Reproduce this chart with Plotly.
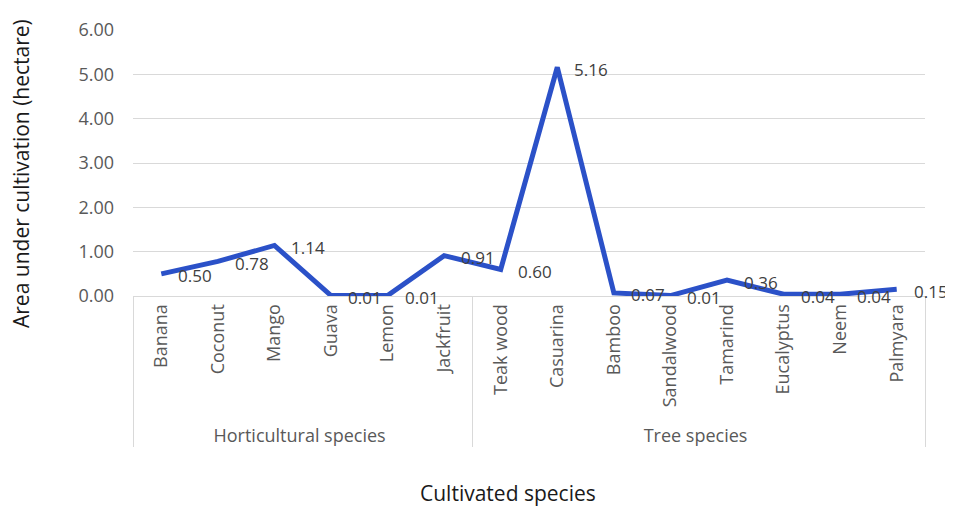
import plotly.graph_objects as go

groups = ["Horticultural species"] * 6 + ["Tree species"] * 8
species = ["Banana", "Coconut", "Mango", "Guava", "Lemon", "Jackfruit",
           "Teak wood", "Casuarina", "Bamboo", "Sandalwood", "Tamarind",
           "Eucalyptus", "Neem", "Palmyara"]
area = [0.50, 0.78, 1.14, 0.01, 0.01, 0.91, 0.60, 5.16, 0.07, 0.01, 0.36, 0.04, 0.04, 0.15]
y_ticks = [0, 1, 2, 3, 4, 5, 6]

# page has an 8px body margin; figure sized to fit the 953x507 window
W, H = 945, 499
L, R, T, B = 125, 28, 22, 211
pw, ph = W - L - R, H - T - B

fig = go.Figure()
fig.add_trace(go.Scatter(
    x=[groups, species], y=area, mode="lines",
    line=dict(color="#2B51C8", width=5), showlegend=False,
))

for i, v in enumerate(area):
    fig.add_annotation(x=i, y=v, xref="x", yref="y", text=f"{v:.2f}",
                       showarrow=False, xanchor="left", yanchor="middle",
                       xshift=15, yshift=-2,
                       font=dict(family="Open Sans", size=17, color="#404040"))

def px_to_paper(xp, yp):
    return (xp - L) / pw, (H - yp - B) / ph

tx, ty = px_to_paper(500, 485)
fig.add_annotation(x=tx, y=ty, xref="paper", yref="paper", text="Cultivated species",
                   showarrow=False, xanchor="center", yanchor="middle",
                   font=dict(family="Open Sans", size=21, color="#1a1a1a"))
tx, ty = px_to_paper(13, 166)
fig.add_annotation(x=tx, y=ty, xref="paper", yref="paper",
                   text="Area under cultivation (hectare)", textangle=-90,
                   showarrow=False, xanchor="center", yanchor="middle",
                   font=dict(family="Open Sans", size=21, color="#1a1a1a"))

fig.update_layout(
    width=W, height=H,
    margin=dict(l=L, r=R, t=T, b=B),
    paper_bgcolor="white", plot_bgcolor="white",
    font=dict(family="Open Sans", size=18, color="#595959"),
    xaxis=dict(
        type="multicategory", tickangle=-90, automargin=False,
        range=[-0.5, 13.5],
        showline=True, linecolor="#d9d9d9", linewidth=1,
        showdividers=True, dividercolor="#d9d9d9", dividerwidth=1,
        showgrid=False, ticks="",
        tickfont=dict(size=18, color="#595959"),
    ),
    yaxis=dict(
        range=[0, 6], tickvals=y_ticks, tickformat=".2f", automargin=False,
        showgrid=True, gridcolor="#d9d9d9", gridwidth=1,
        zeroline=False, ticks="", ticklabelstandoff=18,
        tickfont=dict(size=18, color="#595959"),
    ),
)

fig.write_html("out.html")
